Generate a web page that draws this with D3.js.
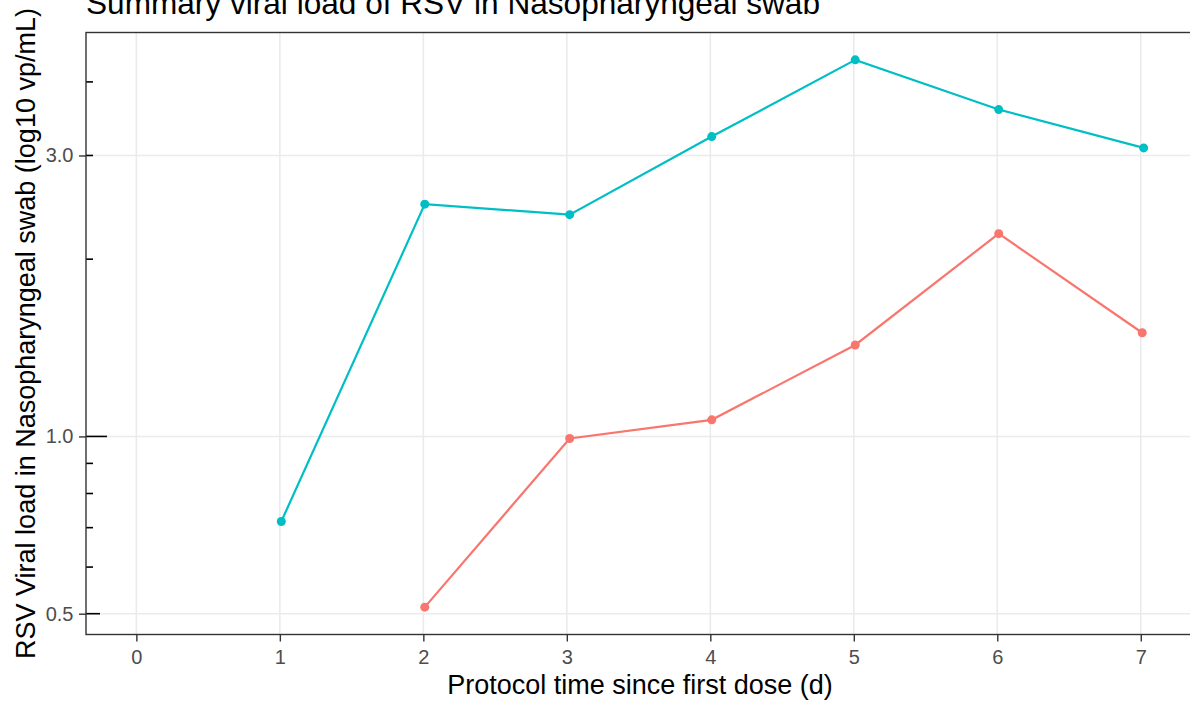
<!DOCTYPE html>
<html>
<head>
<meta charset="utf-8">
<script src="https://cdn.jsdelivr.net/npm/d3@7"></script>
<style>
  body { margin: 0; background: #fff; }
  svg { display: block; font-family: "Liberation Sans", Arial, sans-serif; }
</style>
</head>
<body>
<script>
var width = 1190,
    height = 701;

// data (x = protocol day, y = viral load)
var cyanDays = [1.01, 2.01, 3.02, 4.01, 5.01, 6.01, 7.02];
var cyanLoad = [0.717, 2.48, 2.38, 3.23, 4.36, 3.59, 3.09];
var redDays = [2.01, 3.02, 4.01, 5.01, 6.01, 7.01];
var redLoad = [0.513, 0.992, 1.067, 1.43, 2.21, 1.50];

var xBreaks = [0, 1, 2, 3, 4, 5, 6, 7];
var yBreaks = [0.5, 1.0, 3.0];
var logShort = [0.6, 0.7, 0.8, 0.9, 2, 3, 4];
var logMid = [0.5];
var logLong = [1];

var series = [
    { name: "a", color: "#00BFC4", days: cyanDays, load: cyanLoad },
    { name: "b", color: "#F8766D", days: redDays, load: redLoad }
];

var panel = { left: 86, top: 32.5, bottom: 634.5, right: 1194 };

//Scales, with ggplot-style 5% expansion
var allDays = cyanDays.concat(redDays, [0]);
var xmin = d3.min(allDays), xmax = d3.max(allDays), xpad = (xmax - xmin) * 0.05;
var x = d3.scaleLinear()
    .domain([xmin - xpad, xmax + xpad])
    .range([panel.left, panel.right]);

var allLoad = cyanLoad.concat(redLoad);
var lmin = Math.log10(d3.min(allLoad)), lmax = Math.log10(d3.max(allLoad)), lpad = (lmax - lmin) * 0.05;
var y = d3.scaleLog()
    .domain([Math.pow(10, lmin - lpad), Math.pow(10, lmax + lpad)])
    .range([panel.bottom, panel.top]);

var svg = d3.select("body").append("svg")
    .attr("width", width)
    .attr("height", height);

//Grid
svg.append("g").selectAll("line")
    .data(xBreaks).enter().append("line")
    .attr("x1", function (d) { return x(d); })
    .attr("x2", function (d) { return x(d); })
    .attr("y1", panel.top).attr("y2", panel.bottom)
    .attr("stroke", "#ebebeb").attr("stroke-width", 1.6);

svg.append("g").selectAll("line")
    .data(yBreaks).enter().append("line")
    .attr("x1", panel.left).attr("x2", panel.right)
    .attr("y1", function (d) { return y(d); })
    .attr("y2", function (d) { return y(d); })
    .attr("stroke", "#ebebeb").attr("stroke-width", 1.6);

//Lines and points
var line = d3.line()
    .x(function (d) { return x(d[0]); })
    .y(function (d) { return y(d[1]); });

series.forEach(function (s) {
    var pts = d3.zip(s.days, s.load);
    svg.append("path")
        .datum(pts)
        .attr("fill", "none")
        .attr("stroke", s.color)
        .attr("stroke-width", 2.2)
        .attr("d", line);
    svg.append("g").selectAll("circle")
        .data(pts).enter().append("circle")
        .attr("cx", function (d) { return x(d[0]); })
        .attr("cy", function (d) { return y(d[1]); })
        .attr("r", 4.5)
        .attr("fill", s.color);
});

//Log ticks inside the panel
function logticks(vals, len) {
    svg.append("g").selectAll("line")
        .data(vals).enter().append("line")
        .attr("x1", panel.left).attr("x2", panel.left + len)
        .attr("y1", function (d) { return y(d); })
        .attr("y2", function (d) { return y(d); })
        .attr("stroke", "#000").attr("stroke-width", 1.6);
}
logticks(logShort, 7);
logticks(logMid, 14);
logticks(logLong, 21);

//Panel border
svg.append("rect")
    .attr("x", panel.left).attr("y", panel.top)
    .attr("width", panel.right - panel.left)
    .attr("height", panel.bottom - panel.top)
    .attr("fill", "none")
    .attr("stroke", "#333").attr("stroke-width", 1.4);

//Axes
var xAxis = svg.append("g")
    .attr("transform", "translate(0," + panel.bottom + ")")
    .call(d3.axisBottom(x).tickValues(xBreaks).tickFormat(d3.format("d")).tickSize(7).tickPadding(8));

var yAxis = svg.append("g")
    .attr("transform", "translate(" + panel.left + ",0)")
    .call(d3.axisLeft(y).tickValues(yBreaks).tickFormat(d3.format(".1f")).tickSize(7).tickPadding(5.5));

[xAxis, yAxis].forEach(function (a) {
    a.attr("font-size", null).attr("font-family", null);
    a.select(".domain").remove();
    a.selectAll(".tick line").attr("stroke", "#333").attr("stroke-width", 1.4);
    a.selectAll(".tick text")
        .attr("fill", "#4d4d4d")
        .style("font-size", "20px");
});

//Titles
svg.append("text")
    .attr("x", panel.left)
    .attr("y", 14)
    .style("font-size", "31.6px")
    .attr("fill", "#000")
    .text("Summary viral load of RSV in Nasopharyngeal swab");

svg.append("text")
    .attr("x", (panel.left + panel.right) / 2)
    .attr("y", 694)
    .attr("text-anchor", "middle")
    .style("font-size", "27px")
    .attr("fill", "#000")
    .text("Protocol time since first dose (d)");

svg.append("text")
    .attr("transform", "translate(35," + (panel.top + panel.bottom) / 2 + ") rotate(-90)")
    .attr("text-anchor", "middle")
    .style("font-size", "27px")
    .attr("fill", "#000")
    .text("RSV Viral load in Nasopharyngeal swab (log10 vp/mL)");
</script>
</body>
</html>
